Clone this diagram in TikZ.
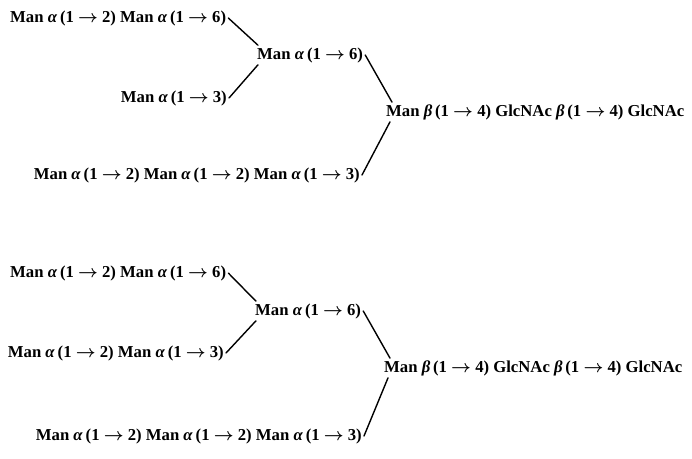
\documentclass[tikz,border=0pt]{standalone}
\usepackage{fontspec}
\setmainfont{Liberation Serif}
% glycosidic link: anomer, from, to
\newcommand{\lnk}[3]{\textit{#1}\,(#2 $\rightarrow$ #3)}
\tikzset{
  sugar/.style={
    inner sep=2pt,
    font=\fontsize{16.7}{17}\selectfont\bfseries\boldmath
  },
  branch/.style={
    line width=1.4pt,
    line cap=round
  }
}

\begin{document}
\begin{tikzpicture}[x=1pt, y=-1pt]
    \useasboundingbox (0,0) rectangle (692,458);

    % upper structure
    \node[sugar, anchor=west] (a1) at (8,18) {Man \lnk{α}{1}{2} Man \lnk{α}{1}{6}};
    \node[sugar, anchor=west] (b1) at (255,55) {Man \lnk{α}{1}{6}};
    \node[sugar, anchor=east] (c1) at (229,98) {Man \lnk{α}{1}{3}};
    \node[sugar, anchor=west] (d1) at (384,112) {Man \lnk{β}{1}{4} GlcNAc \lnk{β}{1}{4} GlcNAc};
    \node[sugar, anchor=east] (e1) at (362,175) {Man \lnk{α}{1}{2} Man \lnk{α}{1}{2} Man \lnk{α}{1}{3}};

    \draw[branch] (a1.east) -- ([xshift=3pt]b1.north west);
    \draw[branch] ([xshift=3pt]b1.south west) -- (c1.east);
    \draw[branch] (b1.east) -- ([xshift=8pt]d1.north west);
    \draw[branch] ([xshift=6pt]d1.south west) -- (e1.east);

    % lower structure
    \node[sugar, anchor=west] (a2) at (8,273) {Man \lnk{α}{1}{2} Man \lnk{α}{1}{6}};
    \node[sugar, anchor=west] (b2) at (253,311) {Man \lnk{α}{1}{6}};
    \node[sugar, anchor=east] (c2) at (226,353) {Man \lnk{α}{1}{2} Man \lnk{α}{1}{3}};
    \node[sugar, anchor=west] (d2) at (382,368) {Man \lnk{β}{1}{4} GlcNAc \lnk{β}{1}{4} GlcNAc};
    \node[sugar, anchor=east] (e2) at (364,436) {Man \lnk{α}{1}{2} Man \lnk{α}{1}{2} Man \lnk{α}{1}{3}};

    \draw[branch] (a2.east) -- ([xshift=3pt]b2.north west);
    \draw[branch] ([xshift=3pt]b2.south west) -- (c2.east);
    \draw[branch] (b2.east) -- ([xshift=8pt]d2.north west);
    \draw[branch] ([xshift=6pt]d2.south west) -- (e2.east);
\end{tikzpicture}
\end{document}
